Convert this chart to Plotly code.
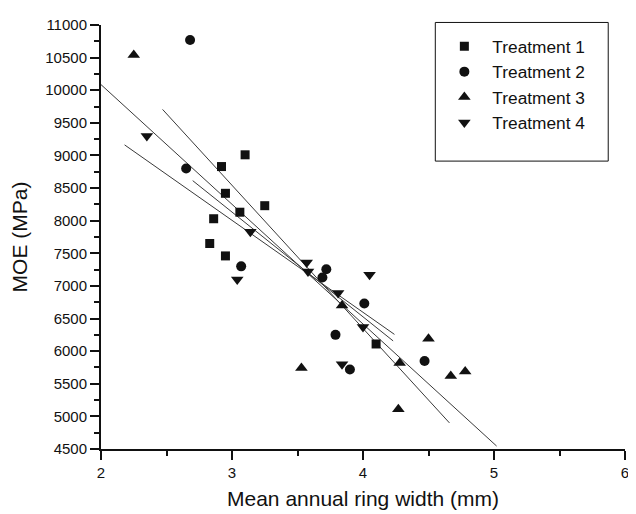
import plotly.graph_objects as go

# Data
t1_x = [2.92, 3.10, 2.95, 3.25, 3.06, 2.86, 2.83, 2.95, 4.10]
t1_y = [8830, 9010, 8420, 8230, 8130, 8030, 7650, 7460, 6110]

t2_x = [2.68, 2.65, 3.07, 3.72, 3.69, 4.01, 3.79, 3.90, 4.47]
t2_y = [10770, 8800, 7300, 7255, 7130, 6730, 6250, 5720, 5850]

t3_x = [2.25, 3.84, 3.53, 4.50, 4.28, 4.67, 4.78, 4.27]
t3_y = [10540, 6700, 5740, 6190, 5820, 5620, 5690, 5110]

t4_x = [2.35, 3.14, 3.04, 3.57, 3.58, 4.05, 3.81, 4.00, 3.84]
t4_y = [9300, 7830, 7100, 7360, 7220, 7170, 6890, 6370, 5800]

# Fitted lines (end points)
fit_x0 = [2.00, 2.47, 2.18, 2.70]
fit_x1 = [5.02, 4.66, 4.24, 4.23]
fit_y0 = [10086, 9706, 9162, 8614]
fit_y1 = [4545, 4900, 6257, 6157]

names = ["Treatment 1", "Treatment 2", "Treatment 3", "Treatment 4"]
symbols = ["square", "circle", "triangle-up", "triangle-down"]
sizes = [9, 10, 11, 11]
xs = [t1_x, t2_x, t3_x, t4_x]
ys = [t1_y, t2_y, t3_y, t4_y]
x_ticks = [2, 3, 4, 5, 6]

FONT = "Liberation Sans, Arial, sans-serif"

fig = go.Figure()

for i in range(4):
    fig.add_trace(go.Scatter(
        x=[fit_x0[i], fit_x1[i]], y=[fit_y0[i], fit_y1[i]],
        mode="lines", line=dict(color="#3a3a3a", width=1),
        showlegend=False, hoverinfo="skip"))

for i in range(4):
    fig.add_trace(go.Scatter(
        x=xs[i], y=ys[i], mode="markers", name=names[i],
        marker=dict(symbol=symbols[i], size=sizes[i], color="#111111",
                    line=dict(width=0))))

# page body has an 8px margin, so the figure is sized to fit the 636x514 window
fig.update_layout(
    width=628, height=506,
    margin=dict(l=93, r=7, t=17, b=62),
    plot_bgcolor="white", paper_bgcolor="white",
    font=dict(family=FONT, color="#111111"),
    showlegend=True,
    legend=dict(x=0.640, y=0.992, xanchor="left", yanchor="top",
                bgcolor="rgba(0,0,0,0)", borderwidth=0, itemwidth=46,
                font=dict(size=17.3, family=FONT), tracegroupgap=0),
    shapes=[dict(type="rect", xref="paper", yref="paper",
                 x0=0.638, x1=0.968, y0=0.679, y1=1.006,
                 line=dict(color="#111111", width=1))],
)

fig.update_xaxes(
    range=[2, 6], tickvals=x_ticks, ticktext=[str(v) for v in x_ticks],
    ticklabeloverflow="allow",
    showgrid=False, zeroline=False,
    showline=True, linecolor="#111111", linewidth=2,
    ticks="outside", ticklen=9, tickwidth=2, tickcolor="#111111",
    tickfont=dict(size=15, family=FONT),
    minor=dict(tickvals=[2.5, 3.5, 4.5, 5.5], ticks="outside", ticklen=5, tickwidth=2,
               tickcolor="#111111", showgrid=False),
    title=dict(text="Mean annual ring width (mm)", font=dict(size=21, family=FONT),
               standoff=11),
)
fig.update_yaxes(
    range=[4500, 11000], dtick=500, tick0=4500, tickformat="d",
    showgrid=False, zeroline=False,
    showline=True, linecolor="#111111", linewidth=2,
    ticks="outside", ticklen=9, tickwidth=2, tickcolor="#111111",
    tickfont=dict(size=15, family=FONT),
    minor=dict(dtick=250, ticks="outside", ticklen=5, tickwidth=2,
               tickcolor="#111111", showgrid=False),
    title=dict(text="MOE (MPa)", font=dict(size=21, family=FONT), standoff=13),
)

fig.write_html("out.html")
